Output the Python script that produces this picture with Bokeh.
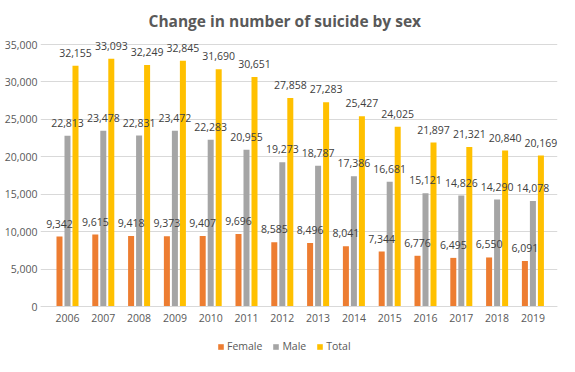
from bokeh.plotting import figure
from bokeh.models import (ColumnDataSource, Range1d, FixedTicker,
                          NumeralTickFormatter, LabelSet, Legend, LegendItem)
from bokeh.core.properties import value
from bokeh.transform import dodge
from bokeh.embed import file_html
from bokeh.resources import INLINE

years = [2006, 2007, 2008, 2009, 2010, 2011, 2012,
         2013, 2014, 2015, 2016, 2017, 2018, 2019]
female = [9342, 9615, 9418, 9373, 9407, 9696, 8585, 8496, 8041, 7344, 6776, 6495, 6550, 6091]
male = [22813, 23478, 22831, 23472, 22283, 20955, 19273, 18787, 17386, 16681, 15121, 14826, 14290, 14078]
total = [32155, 33093, 32249, 32845, 31690, 30651, 27858, 27283, 25427, 24025, 21897, 21321, 20840, 20169]
y_ticks = [0, 5000, 10000, 15000, 20000, 25000, 30000, 35000]

series = [("Female", female, "#ED7D31", -0.2235),
          ("Male", male, "#A5A5A5", 0.0),
          ("Total", total, "#FFC000", 0.2235)]

FONT = "Open Sans"
TXT = "#595959"

p = figure(x_range=Range1d(2005.246, 2019.687), y_range=Range1d(-6679, 35802),
           frame_width=517, frame_height=318,
           min_border_left=40, min_border_right=2, min_border_top=38, min_border_bottom=0,
           output_backend="svg", toolbar_location=None,
           title="Change in number of suicide by sex")
p.outline_line_color = None
p.background_fill_color = "white"
p.border_fill_color = "white"

p.title.align = "left"
p.title.offset = 108
p.title.text_font = FONT
p.title.text_font_size = "15.5px"
p.title.text_font_style = "bold"
p.title.text_color = TXT
p.title.standoff = 13

items = []
for name, vals, color, off in series:
    src = ColumnDataSource(dict(year=years, value=vals,
                                label=[f"{v:,}" for v in vals]))
    r = p.vbar(x=dodge("year", off), top="value", width=0.168,
               source=src, fill_color=color, line_color=None)
    items.append(LegendItem(label=name, renderers=[r]))
    p.add_layout(LabelSet(x=dodge("year", off), y="value", text="label",
                          source=src, text_align="center", text_baseline="alphabetic",
                          y_offset=9, text_font=value(FONT), text_font_size=value("10.5px"),
                          text_color="#404040"))

p.yaxis.ticker = FixedTicker(ticks=y_ticks)
p.yaxis.formatter = NumeralTickFormatter(format="0,0")
p.yaxis.axis_line_color = None
p.yaxis.major_tick_line_color = None
p.yaxis.minor_tick_line_color = None
p.yaxis.major_tick_out = 0
p.yaxis.major_tick_in = 0
p.yaxis.minor_tick_out = 0
p.yaxis.major_label_standoff = 3
p.yaxis.major_label_text_font = FONT
p.yaxis.major_label_text_font_size = "10.5px"
p.yaxis.major_label_text_color = TXT

p.xaxis.fixed_location = 0
p.xaxis.ticker = FixedTicker(ticks=years)
p.xaxis.major_label_overrides = {y: str(y) for y in years}
p.xaxis.axis_line_color = "#D9D9D9"
p.xaxis.major_tick_line_color = None
p.xaxis.minor_tick_line_color = None
p.xaxis.major_tick_out = 0
p.xaxis.major_tick_in = 0
p.xaxis.minor_tick_out = 0
p.xaxis.major_label_standoff = 7
p.xaxis.major_label_text_font = FONT
p.xaxis.major_label_text_font_size = "10.5px"
p.xaxis.major_label_text_color = TXT

p.xgrid.grid_line_color = None
p.ygrid.grid_line_color = "#D9D9D9"
p.ygrid.ticker = FixedTicker(ticks=y_ticks)

legend = Legend(items=items, orientation="horizontal", location=(177, 3),
                glyph_width=7, glyph_height=7, label_text_font=FONT,
                label_text_font_size="10.5px", label_text_color=TXT,
                label_height=12, border_line_color=None, background_fill_alpha=0,
                spacing=10, label_standoff=3, padding=2, margin=0)
p.add_layout(legend, "center")

open("out.html", "w").write(file_html(p, INLINE))
